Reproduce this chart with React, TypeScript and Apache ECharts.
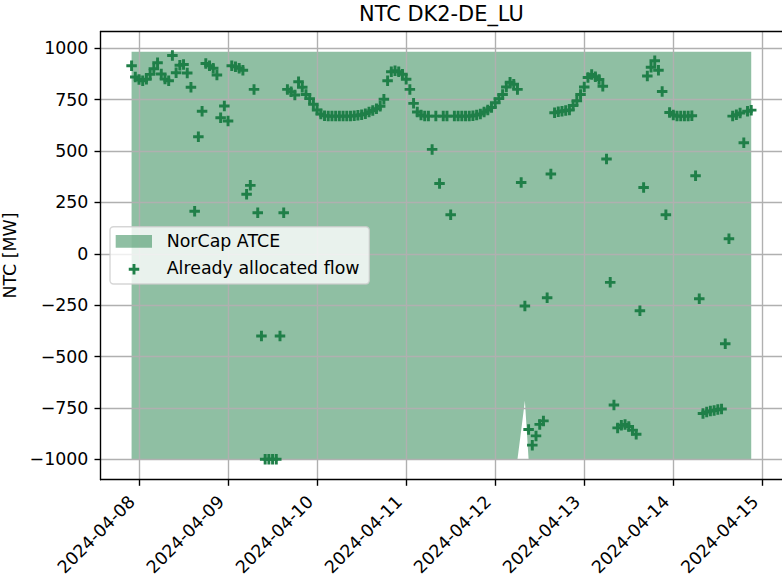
import React, { useEffect, useRef } from "react";
import * as echarts from "echarts";

const TITLE = "NTC DK2-DE_LU";
const Y_LABEL = "NTC [MW]";
const FILL_NAME = "NorCap ATCE";
const FLOW_NAME = "Already allocated flow";

// hours relative to 2024-04-08 00:00 UTC
const atceHours = [-2, 102, 103, 104, 105, 165];
const atceUpper = [983, 983, 983, 983, 983, 983];
const atceLower = [-1000, -1000, -860, -715, -1000, -1000];

// hourly allocated flow, first value at hour -2 (2024-04-07 22:00 UTC)
const flowStartHour = -2;
const flowValues = [
  915, 860, 848, 842, 849, 873, 900, 930, 875, 850, 842, 965,
  881, 917, 921, 880, 810, 207, 570, 694, 926, 915, 903, 870,
  662, 719, 646, 915, 910, 903, 893, 290, 333, 800, 200, -400,
  -1000, -1000, -1000, -1000, -400, 200, 800, 788, 773, 837, 810, 775,
  755, 728, 700, 680, 672, 670, 670, 670, 670, 670, 670, 670,
  672, 674, 677, 682, 690, 697, 706, 718, 752, 842, 886, 891,
  886, 874, 849, 800, 732, 690, 675, 670, 670, 508, 670, 342,
  670, 670, 190, 670, 670, 670, 670, 670, 672, 675, 680, 690,
  700, 712, 735, 755, 775, 812, 835, 825, 800, 347, -254, -855,
  -931, -886, -830, -813, -214, 388, 686, 691, 694, 697, 700, 722,
  745, 775, 812, 858, 872, 862, 848, 815, 461, -139, -736, -847,
  -834, -830, -840, -858, -878, -277, 323, 865, 908, 939, 893, 790,
  190, 688, 675, 670, 670, 670, 670, 672, 380, -219, -777, -770,
  -765, -762, -758, -755, -438, 73, 670, 677, 685, 540, 694, 699,
];

const dayTicks = [
  "2024-04-08", "2024-04-09", "2024-04-10", "2024-04-11",
  "2024-04-12", "2024-04-13", "2024-04-14", "2024-04-15",
];
const yTicks = [-1000, -750, -500, -250, 0, 250, 500, 750, 1000];

const GREEN = "#1f7f48";
const FILL = "rgba(31,127,72,0.5)";
const FONT = "DejaVu Sans";
const T0 = Date.UTC(2024, 3, 8, 0, 0, 0);
const H = 3600 * 1000;
const hourMs = (h: number) => T0 + h * H;

function buildOption() {
  const flowData = flowValues.map((v, i) => [hourMs(flowStartHour + i), v]);
  const hMin = Math.min(atceHours[0], flowStartHour);
  const hMax = Math.max(atceHours[atceHours.length - 1], flowStartHour + flowValues.length - 1);
  const xPad = (hMax - hMin) * 0.05;
  const yLo = Math.min(...atceLower, ...flowValues);
  const yHi = Math.max(...atceUpper, ...flowValues);
  const yPad = (yHi - yLo) * 0.05;
  const dayMs = dayTicks.map((d) => Date.parse(d + "T00:00:00Z"));

  const cx = 134, cy = 269.3, hs = 5.25, ht = 1.45;
  const plusPts = [
    [cx - ht, cy - hs], [cx + ht, cy - hs], [cx + ht, cy - ht], [cx + hs, cy - ht],
    [cx + hs, cy + ht], [cx + ht, cy + ht], [cx + ht, cy + hs], [cx - ht, cy + hs],
    [cx - ht, cy + ht], [cx - hs, cy + ht], [cx - hs, cy - ht], [cx - ht, cy - ht],
  ];

  return {
    animation: false,
    backgroundColor: "#ffffff",
    textStyle: { fontFamily: FONT },
    title: {
      text: TITLE,
      left: 441.4,
      top: 3.2,
      padding: 0,
      textAlign: "center",
      textStyle: { fontFamily: FONT, fontSize: 20.9, fontWeight: "normal", color: "#000", lineHeight: 20.9 },
    },
    grid: {
      left: 100.6, top: 31.4, width: 681.6, height: 448.3,
      containLabel: false, outerBoundsMode: "none",
    },
    xAxis: [
      {
        type: "value",
        min: hourMs(hMin - xPad),
        max: hourMs(hMax + xPad),
        z: 1,
        axisLine: { show: true, onZero: false, lineStyle: { color: "#000", width: 1.39 } },
        axisTick: { show: true, length: 6.1, customValues: dayMs, lineStyle: { color: "#000", width: 1.39 } },
        axisLabel: {
          customValues: dayMs,
          rotate: 45,
          margin: 12,
          padding: [0, 10, 0, 0],
          fontSize: 17.4,
          fontFamily: FONT,
          color: "#000",
          formatter: (v: number) => new Date(v).toISOString().slice(0, 10),
        },
        splitLine: { show: true, lineStyle: { color: "#b0b0b0", width: 1.39 } },
      },
      {
        type: "value",
        position: "top",
        min: hourMs(hMin - xPad),
        max: hourMs(hMax + xPad),
        z: 1,
        axisLine: { show: true, onZero: false, lineStyle: { color: "#000", width: 1.39 } },
        axisTick: { show: false },
        axisLabel: { show: false },
        splitLine: { show: false },
      },
    ],
    yAxis: {
      type: "value",
      min: yLo - yPad,
      max: yHi + yPad,
      z: 1,
      name: Y_LABEL,
      nameLocation: "middle",
      nameGap: 79.4,
      nameTextStyle: { fontSize: 17.4, fontFamily: FONT, color: "#000" },
      axisLine: { show: true, onZero: false, lineStyle: { color: "#000", width: 1.39 } },
      axisTick: { show: true, length: 6.1, customValues: yTicks, lineStyle: { color: "#000", width: 1.39 } },
      axisLabel: {
        customValues: yTicks,
        margin: 12.2,
        fontSize: 17.4,
        fontFamily: FONT,
        color: "#000",
        formatter: (v: number) => (v < 0 ? "\u2212" + Math.abs(v) : String(v)),
      },
      splitLine: { show: true, lineStyle: { color: "#b0b0b0", width: 1.39 } },
    },
    series: [
      {
        name: FILL_NAME,
        type: "custom",
        coordinateSystem: "cartesian2d",
        z: 0,
        silent: true,
        data: [[hourMs(atceHours[0]), atceLower[0]]],
        renderItem: (_params: any, api: any) => {
          const up = atceHours.map((h, i) => api.coord([hourMs(h), atceUpper[i]]));
          const lo = atceHours.map((h, i) => api.coord([hourMs(h), atceLower[i]])).reverse();
          return {
            type: "polygon",
            shape: { points: up.concat(lo) },
            style: { fill: FILL, stroke: "none" },
          };
        },
      },
      {
        name: FLOW_NAME,
        type: "scatter",
        z: 3,
        silent: true,
        symbol: "path://M3.6,0H6.4V3.6H10V6.4H6.4V10H3.6V6.4H0V3.6H3.6Z",
        symbolSize: 10.5,
        itemStyle: { color: GREEN, opacity: 1 },
        data: flowData,
      },
    ],
    graphic: {
      elements: [
        {
          type: "rect",
          z: 100,
          shape: { x: 110, y: 226.7, width: 259.3, height: 57.3, r: 3.5 },
          style: { fill: "rgba(255,255,255,0.8)", stroke: "rgba(204,204,204,0.8)", lineWidth: 1.4 },
        },
        {
          type: "rect",
          z: 101,
          shape: { x: 115.7, y: 235, width: 36.3, height: 12.7 },
          style: { fill: FILL },
        },
        {
          type: "polygon",
          z: 101,
          shape: { points: plusPts },
          style: { fill: GREEN },
        },
        {
          type: "text",
          z: 101,
          x: 166.7,
          y: 241,
          style: { text: FILL_NAME, fontSize: 17.4, fontFamily: FONT, fill: "#000", verticalAlign: "middle", align: "left" },
        },
        {
          type: "text",
          z: 101,
          x: 166.7,
          y: 267.8,
          style: { text: FLOW_NAME, fontSize: 17.4, fontFamily: FONT, fill: "#000", verticalAlign: "middle", align: "left" },
        },
      ],
    },
  };
}

export default function App() {
  const ref = useRef<HTMLDivElement>(null);
  useEffect(() => {
    if (!ref.current) return;
    const chart = echarts.init(ref.current, null, { renderer: "svg", width: 782, height: 576 });
    chart.setOption(buildOption() as any);
    return () => chart.dispose();
  }, []);
  return (
    <div
      ref={ref}
      style={{ position: "fixed", left: 0, top: 0, width: 782, height: 576, background: "#fff" }}
    />
  );
}
